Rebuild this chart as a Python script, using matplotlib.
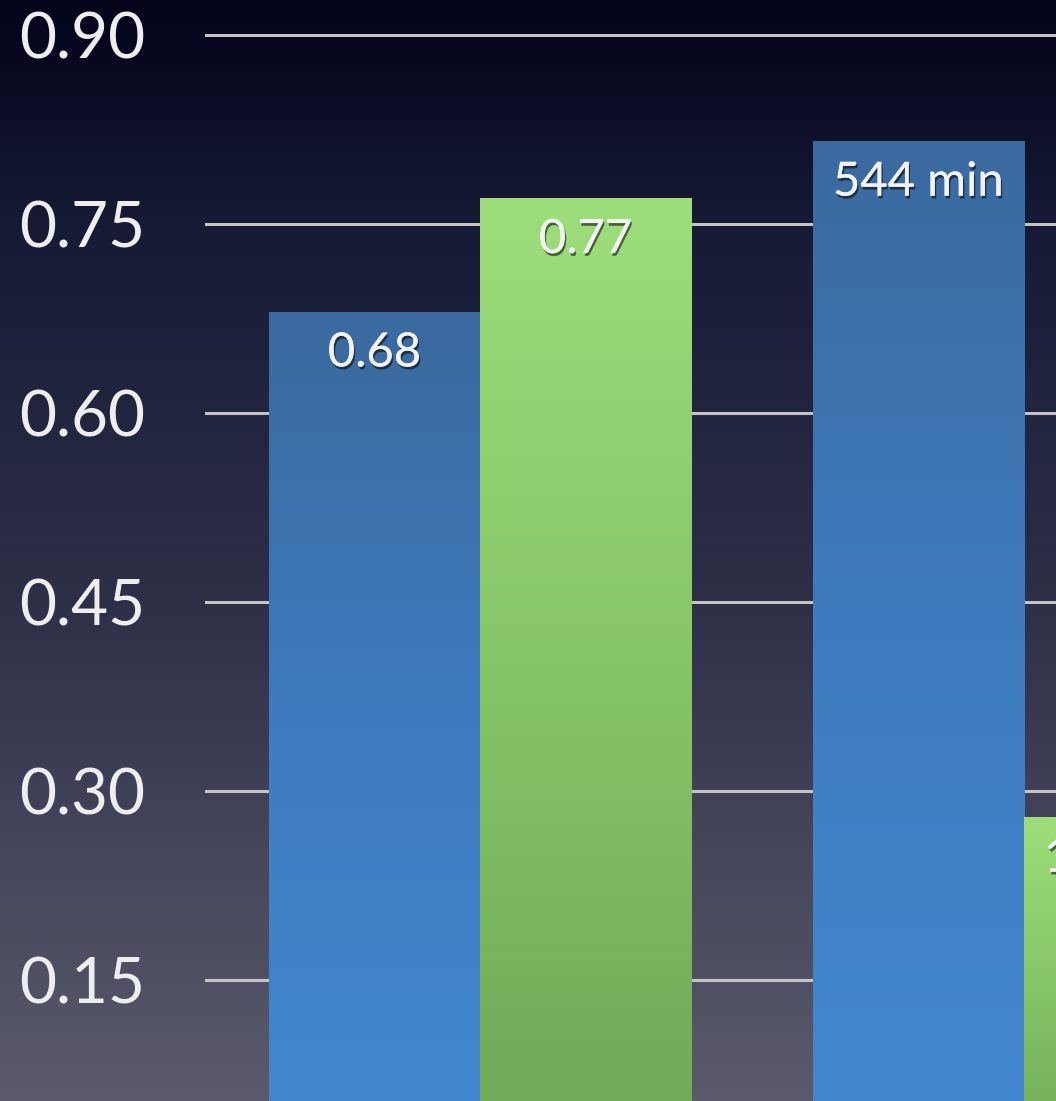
import numpy as np
import matplotlib
matplotlib.use('Agg')
import matplotlib.pyplot as plt
import matplotlib.patheffects as pe
from matplotlib.colors import LinearSegmentedColormap

plt.rcParams['font.family'] = ['Lato', 'DejaVu Sans']

# data
groups = [0, 1]
blue_vals = [0.68, 0.8155]
green_vals = [0.77, 0.279]
blue_labels = ['0.68', '544 min']
green_labels = ['0.77', '186 min']
yticks = [0.15, 0.30, 0.45, 0.60, 0.75, 0.90]
ytick_labels = ['0.15', '0.30', '0.45', '0.60', '0.75', '0.90']

W, H = 1056, 1101
fig = plt.figure(figsize=(W / 100, H / 100), dpi=100)

# dark slide background (bottom -> top)
bg = fig.add_axes([0, 0, 1, 1], zorder=0)
bg_cmap = LinearSegmentedColormap.from_list(
    'bg', [(0.0, '#5a5a6c'), (0.2, '#48485e'), (0.45, '#2e3048'),
           (0.8, '#161a34'), (1.0, '#03031a')])
bg.imshow(np.linspace(0, 1, 256).reshape(-1, 1), cmap=bg_cmap, origin='lower',
          aspect='auto', extent=[0, 1, 0, 1])
bg.set_axis_off()

ax = fig.add_axes([205 / W, 0, 1 - 205 / W, 1], zorder=1)
ax.patch.set_alpha(0)

w = 0.388
x = np.array(groups, dtype=float)
bb = ax.bar(x - w / 2, blue_vals, w, color='#3d78b8', zorder=2)
gb = ax.bar(x + w / 2, green_vals, w, color='#8ccc6c', zorder=2)

blue_cmap = LinearSegmentedColormap.from_list('b', ['#4289d2', '#3f7cc0', '#3a6a9e'])
green_cmap = LinearSegmentedColormap.from_list('g', ['#6ea656', '#86c468', '#9ddd7a'])
grad = np.linspace(0, 1, 256).reshape(-1, 1)
for bars, cm in ((bb, blue_cmap), (gb, green_cmap)):
    for p in bars:
        x0, y1 = p.get_x(), p.get_height()
        im = ax.imshow(grad, cmap=cm, aspect='auto', zorder=2.5, origin='lower',
                       extent=[x0, x0 + p.get_width(), 0, y1])
        im.set_clip_path(p)

shadow = [pe.withSimplePatchShadow(offset=(1, -2), shadow_rgbFace='black', alpha=0.55),
          pe.Normal()]
for bars, labels in ((bb, blue_labels), (gb, green_labels)):
    for p, lab in zip(bars, labels):
        ax.annotate(lab, (p.get_x() + p.get_width() / 2, p.get_height()),
                    xytext=(0, -30), textcoords='offset points',
                    ha='center', va='center', fontsize=34, color='#f2f2f2',
                    zorder=4, path_effects=shadow, annotation_clip=False)

ax.set_xlim((205 - 480) / 544, (1056 - 480) / 544)
ax.set_ylim(0.0536, 0.9274)
ax.set_yticks(yticks)
ax.set_yticklabels(ytick_labels)
ax.tick_params(axis='y', length=0, pad=43, labelsize=46, labelcolor='#eeeeee')
ax.set_xticks([])
ax.yaxis.grid(True, color='#c4c4c4', linewidth=2.2)
ax.set_axisbelow(True)
for s in ax.spines.values():
    s.set_visible(False)

fig.savefig('out.png', dpi=100)
